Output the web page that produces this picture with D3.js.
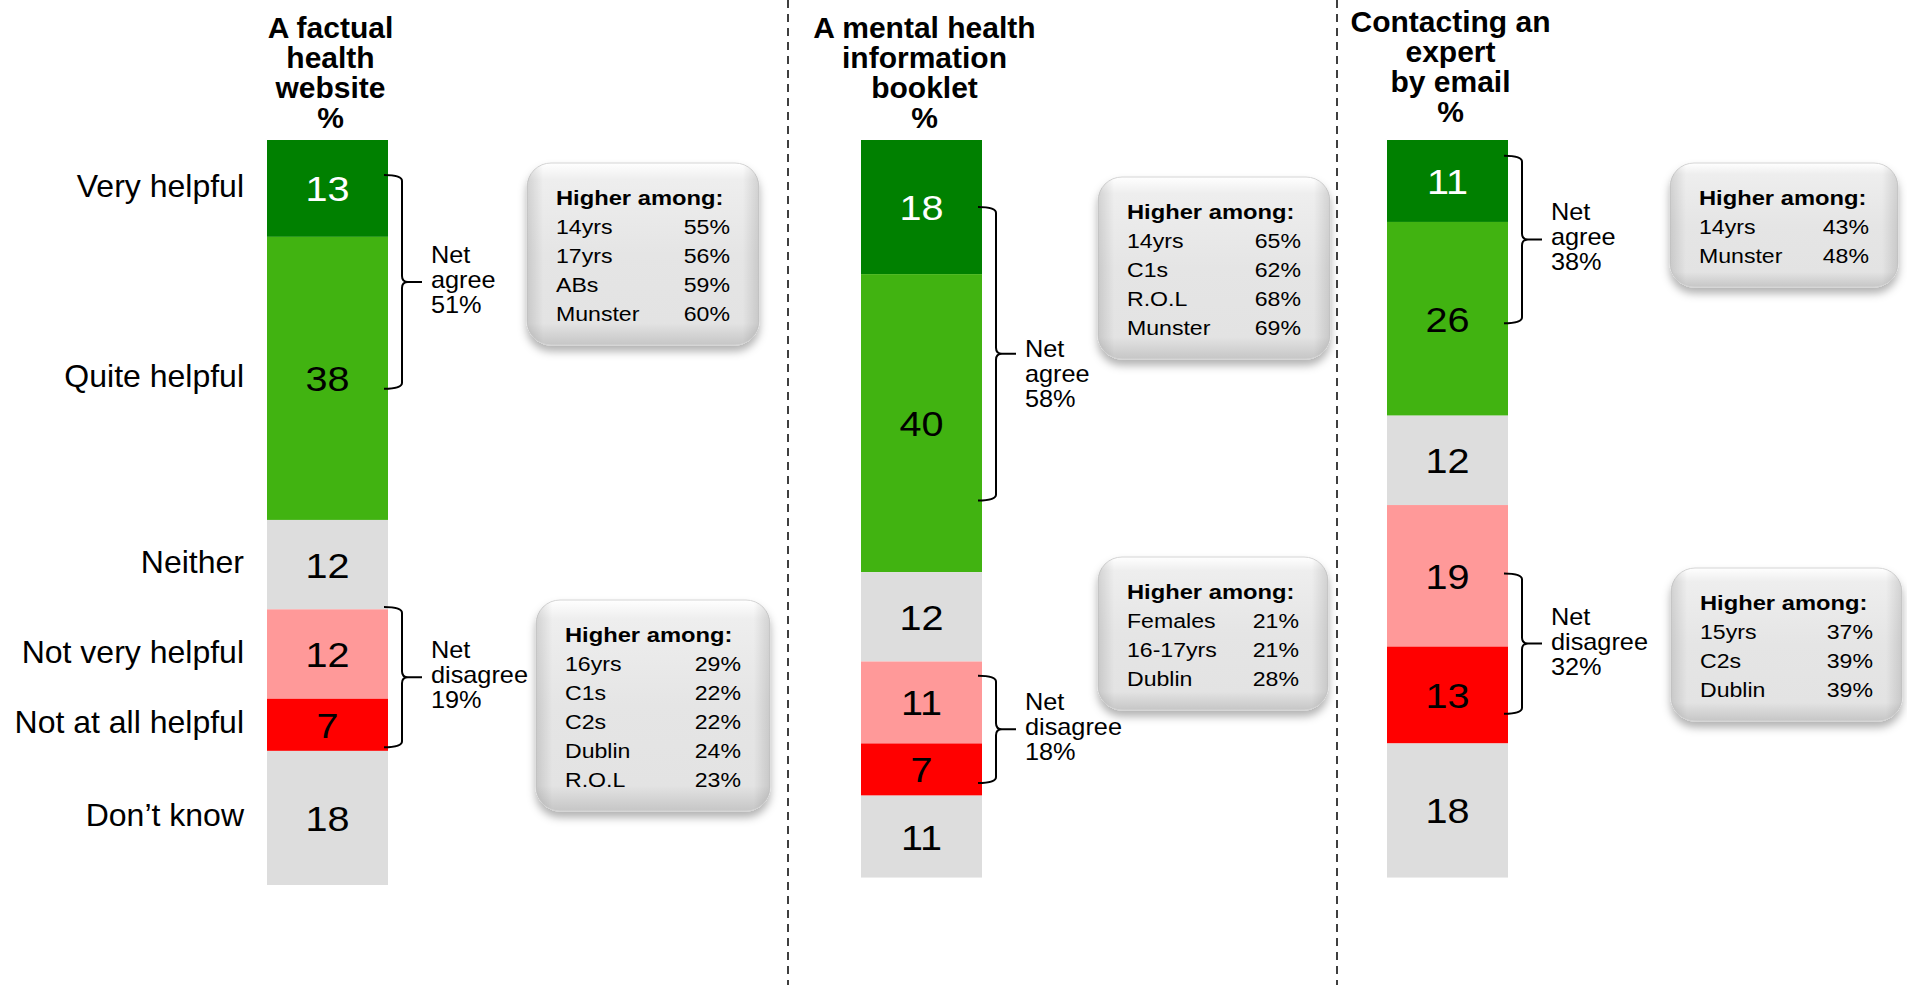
<!DOCTYPE html>
<html>
<head>
<meta charset="utf-8">
<script src="https://cdn.jsdelivr.net/npm/d3@7"></script>
<style>
  body { margin: 0; background: #fff; }
  svg { display: block; font-family: "Liberation Sans", Arial, sans-serif; }
</style>
</head>
<body>
<div class="chart"></div>
<script>
// categories (stack order, top to bottom)
const categories = ["Very helpful", "Quite helpful", "Neither", "Not very helpful", "Not at all helpful", "Don\u2019t know"];
const titles = [
  ["A factual", "health", "website", "%"],
  ["A mental health", "information", "booklet", "%"],
  ["Contacting an", "expert", "by email", "%"]
];
// series values, %
const website = [13, 38, 12, 12, 7, 18];
const booklet = [18, 40, 12, 11, 7, 11];
const email   = [11, 26, 12, 19, 13, 18];
const netAgree    = [51, 58, 38];
const netDisagree = [19, 18, 32];
// bracket spans, in % along the stack
const agreeSpan    = [[4.7, 33.4], [9, 48.4], [2.1, 24.6]];
const disagreeSpan = [[62.7, 81.5], [71.9, 86.3], [58.2, 77]];
// "Higher among" boxes
const agreeHigher = [
  [["14yrs", 55], ["17yrs", 56], ["ABs", 59], ["Munster", 60]],
  [["14yrs", 65], ["C1s", 62], ["R.O.L", 68], ["Munster", 69]],
  [["14yrs", 43], ["Munster", 48]]
];
const disagreeHigher = [
  [["16yrs", 29], ["C1s", 22], ["C2s", 22], ["Dublin", 24], ["R.O.L", 23]],
  [["Females", 21], ["16-17yrs", 21], ["Dublin", 28]],
  [["15yrs", 37], ["C2s", 39], ["Dublin", 39]]
];

const series = [website, booklet, email];
const colors = ["#008000", "#41b311", "#dddddd", "#ff9999", "#ff0000", "#dddddd"];

// layout only
const width = 1907, height = 985;
const barWidth = 121;
const layout = [
  {titleBottom: 128, agreeDy: 0,  boxA: {x: 527,  y: 163, w: 232}, boxB: {x: 536,  y: 600, w: 234}},
  {titleBottom: 128, agreeDy: 22, boxA: {x: 1098, y: 177, w: 232}, boxB: {x: 1098, y: 557, w: 230}},
  {titleBottom: 122, agreeDy: 0,  boxA: {x: 1670, y: 163, w: 228}, boxB: {x: 1671, y: 568, w: 231}}
];

const scaleX = d3.scaleOrdinal().domain([0, 1, 2]).range([267, 861, 1387]);
const scaleY = d3.scaleLinear().domain([0, 100]).range([140, 885]);

const svg = d3.select(".chart").append("svg")
    .attr("width", width)
    .attr("height", height);

const defs = svg.append("defs");
const g1 = defs.append("linearGradient").attr("id", "boxFill")
    .attr("x1", 0).attr("y1", 0).attr("x2", 0).attr("y2", 1);
[["0%", "#ffffff"], ["9%", "#eeeeee"], ["50%", "#e5e5e5"], ["88%", "#e3e3e3"], ["100%", "#c6c6c6"]]
  .forEach(s => g1.append("stop").attr("offset", s[0]).attr("stop-color", s[1]));
const g2 = defs.append("linearGradient").attr("id", "boxSide")
    .attr("x1", 0).attr("y1", 0).attr("x2", 1).attr("y2", 0);
[["0%", 0.12], ["7%", 0], ["93%", 0], ["100%", 0.12]]
  .forEach(s => g2.append("stop").attr("offset", s[0]).attr("stop-color", "#000").attr("stop-opacity", s[1]));
defs.append("filter").attr("id", "shadow")
    .attr("x", "-10%").attr("y", "-10%").attr("width", "120%").attr("height", "130%")
  .append("feDropShadow")
    .attr("dx", 0).attr("dy", 6).attr("stdDeviation", 4)
    .attr("flood-color", "#000").attr("flood-opacity", 0.3);

// dashed separators
[788, 1337].forEach(x => {
  svg.append("line")
      .attr("x1", x).attr("x2", x).attr("y1", 0).attr("y2", height)
      .attr("stroke", "#000").attr("stroke-width", 1.5)
      .attr("stroke-dasharray", "8,6");
});

function bracePath(x, y1, y2) {
  const x0 = x - 4, xv = x + 14, xt = x + 34, ym = (y1 + y2) / 2, r = 6;
  return `M${x0},${y1}Q${xv},${y1} ${xv},${y1 + r}L${xv},${ym - r}Q${xv},${ym} ${xv + r},${ym}L${xt},${ym}` +
         `M${xv + r},${ym}Q${xv},${ym} ${xv},${ym + r}L${xv},${y2 - r}Q${xv},${y2} ${x0},${y2}`;
}

function drawBrace(g, x, span, lines, dy) {
  const y1 = scaleY(span[0]), y2 = scaleY(span[1]), ym = (y1 + y2) / 2;
  g.append("path")
      .attr("d", bracePath(x, y1, y2))
      .attr("fill", "none").attr("stroke", "#000").attr("stroke-width", 2);
  lines.forEach((t, i) => {
    g.append("text")
        .attr("transform", `translate(${x + 43},${ym + 6 + dy + (i - 1) * 25}) scale(1.1,1)`)
        .style("font-size", "23px")
        .text(t);
  });
}

function drawBox(g, box, rows) {
  const top = box.y, hdr = top + 42, rowH = 29;
  const h = 42 + rows.length * rowH + 24;
  g.append("rect")
      .attr("x", box.x).attr("y", top).attr("width", box.w).attr("height", h)
      .attr("rx", 24).attr("ry", 24)
      .attr("fill", "url(#boxFill)").attr("stroke", "#d4d4d4")
      .attr("filter", "url(#shadow)");
  g.append("rect")
      .attr("x", box.x).attr("y", top).attr("width", box.w).attr("height", h)
      .attr("rx", 24).attr("ry", 24)
      .attr("fill", "url(#boxSide)");
  g.append("text")
      .attr("transform", `translate(${box.x + 29},${hdr}) scale(1.13,1)`)
      .style("font-size", "21px").style("font-weight", "bold")
      .text("Higher among:");
  rows.forEach((r, i) => {
    const y = hdr + (i + 1) * rowH;
    g.append("text")
        .attr("transform", `translate(${box.x + 29},${y}) scale(1.1,1)`)
        .style("font-size", "21px")
        .text(r[0]);
    g.append("text")
        .attr("transform", `translate(${box.x + box.w - 29},${y}) scale(1.1,1)`)
        .attr("text-anchor", "end")
        .style("font-size", "21px")
        .text(r[1] + "%");
  });
}

series.forEach((vals, p) => {
  const g = svg.append("g");
  const x = scaleX(p);
  const stack = d3.cumsum(vals);
  const segs = vals.map((v, i) => ({v: v, y0: stack[i] - v, y1: stack[i], i: i}));

  // bar segments
  g.selectAll("rect.seg")
      .data(segs)
      .join("rect")
      .attr("class", "seg")
      .attr("x", x)
      .attr("y", d => scaleY(d.y0))
      .attr("width", barWidth)
      .attr("height", d => scaleY(d.y1) - scaleY(d.y0))
      .attr("fill", d => colors[d.i]);

  // value labels
  g.selectAll("text.val")
      .data(segs)
      .join("text")
      .attr("class", "val")
      .attr("transform", d => `translate(${x + barWidth / 2},${(scaleY(d.y0) + scaleY(d.y1)) / 2}) scale(1.1,1)`)
      .attr("dy", "0.36em")
      .attr("text-anchor", "middle")
      .attr("fill", d => d.i === 0 ? "#fff" : "#000")
      .style("font-size", "36px")
      .text(d => d.v);

  // title
  const t = titles[p];
  g.selectAll("text.title")
      .data(t)
      .join("text")
      .attr("class", "title")
      .attr("x", x + barWidth / 2 + 3)
      .attr("y", (d, i) => layout[p].titleBottom - (t.length - 1 - i) * 30)
      .attr("text-anchor", "middle")
      .style("font-size", "30px").style("font-weight", "bold")
      .text(d => d);

  // category labels, first panel only
  if (p === 0) {
    g.selectAll("text.cat")
        .data(segs)
        .join("text")
        .attr("class", "cat")
        .attr("x", x - 23)
        .attr("y", d => (scaleY(d.y0) + scaleY(d.y1)) / 2 - 3)
        .attr("dy", "0.36em")
        .attr("text-anchor", "end")
        .style("font-size", "32px")
        .text(d => categories[d.i]);
  }

  const br = x + barWidth;
  drawBrace(g, br, agreeSpan[p], ["Net", "agree", netAgree[p] + "%"], layout[p].agreeDy);
  drawBrace(g, br, disagreeSpan[p], ["Net", "disagree", netDisagree[p] + "%"], 0);

  drawBox(g, layout[p].boxA, agreeHigher[p]);
  drawBox(g, layout[p].boxB, disagreeHigher[p]);
});
</script>
</body>
</html>
